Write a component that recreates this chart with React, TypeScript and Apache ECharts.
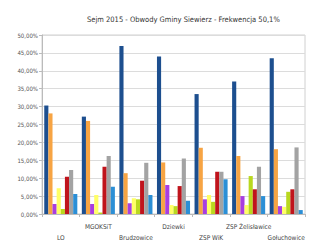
import React, { useEffect, useRef } from "react";
import * as echarts from "echarts";

const categories = ["LO", "MGOKSiT", "Brudzowice", "Dziewki", "ZSP WiK", "ZSP Żelisławice", "Gołuchowice"];
const seriesNames = ["PiS", "PO", "Razem", "KORWiN", "PSL", "ZL", "Nowoczesna", "Kukiz'15"];
const seriesColors = ["#1d4f8f", "#f7a443", "#a83ee0", "#ffff66", "#b9d81f", "#c0141c", "#a3a3a3", "#2b8fd6"];
const pis = [30.3, 27.2, 46.9, 44.0, 33.5, 37.0, 43.5];
const po = [28.1, 26.0, 11.4, 14.4, 18.5, 16.2, 18.1];
const razem = [2.8, 2.8, 3.0, 8.1, 4.1, 5.0, 2.2];
const korwin = [7.2, 5.3, 4.4, 2.5, 5.3, 2.5, 2.0];
const psl = [1.4, 0.4, 4.1, 2.2, 3.4, 10.6, 6.2];
const zl = [10.4, 13.2, 9.3, 7.8, 11.8, 6.9, 6.9];
const nowoczesna = [12.3, 16.2, 14.3, 15.5, 11.8, 13.2, 18.6];
const kukiz = [5.6, 7.6, 5.3, 3.7, 9.7, 5.0, 1.1];
const seriesValues = [pis, po, razem, korwin, psl, zl, nowoczesna, kukiz];
const titleText = "Sejm 2015 - Obwody Gminy Siewierz - Frekwencja 50,1%";

export default function App() {
  const ref = useRef<HTMLDivElement>(null);
  useEffect(() => {
    if (!ref.current) return;
    const chart = echarts.init(ref.current, undefined, { renderer: "svg" });
    chart.setOption({
      animation: false,
      backgroundColor: "#ffffff",
      title: {
        text: titleText,
        left: 82,
        top: 10,
        textStyle: { fontSize: 7.5, fontWeight: "normal", color: "#333", fontFamily: "Liberation Sans Narrow, DejaVu Sans Condensed, sans-serif" },
      },
      grid: { left: 42, right: 7, top: 35, bottom: 35, show: true, borderColor: "#d0d0d0", borderWidth: 1 },
      xAxis: {
        type: "category",
        data: categories,
        axisLine: { lineStyle: { color: "#bbb" } },
        axisTick: { show: true, length: 3, lineStyle: { color: "#bbb" } },
        axisLabel: {
          interval: 0,
          fontSize: 6.5,
          color: "#444",
          margin: 7,
          lineHeight: 11,
          fontFamily: "Liberation Sans Narrow, DejaVu Sans Condensed, sans-serif",
          formatter: (v: string, i: number) => (i % 2 === 0 ? "\n" + v : v),
        },
      },
      yAxis: {
        type: "value",
        min: 0,
        max: 50,
        interval: 5,
        axisLine: { show: true, lineStyle: { color: "#bbb" } },
        axisTick: { show: true, length: 3, lineStyle: { color: "#bbb" } },
        axisLabel: {
          fontSize: 6,
          color: "#555",
          margin: 4,
          fontFamily: "Liberation Sans Narrow, DejaVu Sans Condensed, sans-serif",
          formatter: (v: number) => v.toFixed(2).replace(".", ",") + "%",
        },
        splitLine: { lineStyle: { color: "#dcdcdc" } },
      },
      series: seriesNames.map((name, k) => ({
        name,
        type: "bar",
        data: seriesValues[k],
        barGap: "0%",
        barCategoryGap: "12%",
        itemStyle: { color: seriesColors[k] },
      })),
    });
    return () => chart.dispose();
  }, []);
  return <div ref={ref} style={{ width: 312, height: 249, position: "absolute", left: 0, top: 0 }} />;
}
